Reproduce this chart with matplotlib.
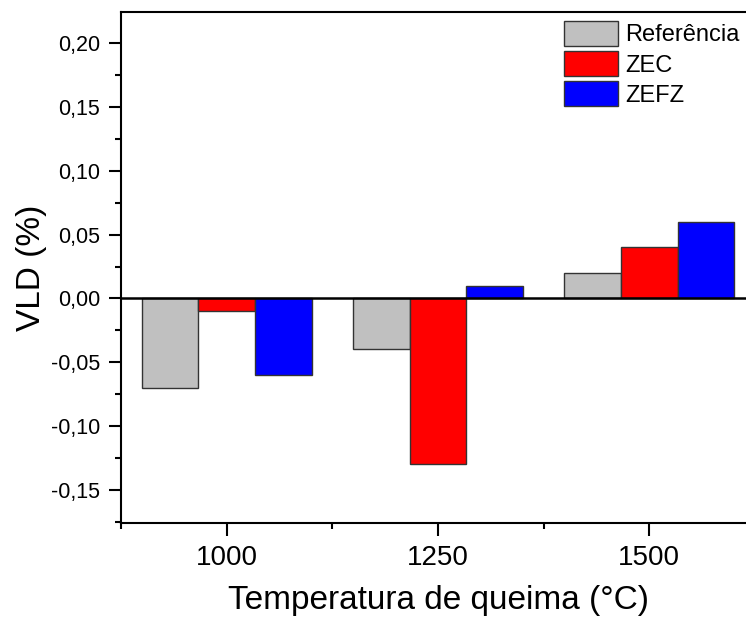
import numpy as np
import matplotlib.pyplot as plt
from matplotlib.ticker import MultipleLocator, FuncFormatter

# temperaturas de queima e variacao linear dimensional (%)
temperaturas = ['1000', '1250', '1500']
referencia = [-0.07, -0.04, 0.02]
zec = [-0.01, -0.13, 0.04]
zefz = [-0.06, 0.01, 0.06]

plt.rcParams['font.family'] = ['Liberation Sans', 'DejaVu Sans']

fig = plt.figure(figsize=(7.46, 6.19), dpi=100)
ax = fig.add_axes([121 / 746, 96 / 619, 634 / 746, 511 / 619])

x = np.arange(len(temperaturas))
w = 0.268
ax.bar(x - w, referencia, w, color='#c0c0c0', edgecolor='#333333', linewidth=1, label='Referência')
ax.bar(x, zec, w, color='#ff0000', edgecolor='#333333', linewidth=1, label='ZEC')
ax.bar(x + w, zefz, w, color='#0000ff', edgecolor='#333333', linewidth=1, label='ZEFZ')
ax.axhline(0, color='black', linewidth=1.8, zorder=3)

ax.set_xlim(-0.5, 2.5)
ax.set_ylim(-0.176, 0.2245)
ax.set_xticks(x)
ax.set_xticklabels(temperaturas)
ax.xaxis.set_minor_locator(MultipleLocator(1, offset=0.5))
ax.yaxis.set_major_locator(MultipleLocator(0.05))
ax.yaxis.set_minor_locator(MultipleLocator(0.025))
ax.yaxis.set_major_formatter(FuncFormatter(lambda v, p: f'{v:.2f}'.replace('.', ',')))

for s in ax.spines.values():
    s.set_linewidth(1.5)
ax.spines['right'].set_visible(False)

ax.tick_params(which='major', direction='out', length=9, width=1.5)
ax.tick_params(which='minor', direction='out', length=4.5, width=1.5)
ax.tick_params(axis='y', which='major', labelsize=15.5, pad=6)
ax.tick_params(axis='x', which='major', labelsize=20, pad=7)

ax.set_xlabel('Temperatura de queima (°C)', fontsize=24, labelpad=10)
ax.set_ylabel('VLD (%)', fontsize=24, labelpad=2.5)

ax.legend(loc='upper left', bbox_to_anchor=(564 / 746, 1 - 21 / 619), bbox_transform=fig.transFigure,
          frameon=False, fontsize=17, handlelength=2.3, handleheight=1.25, handletextpad=0.3,
          labelspacing=0.2, borderpad=0, borderaxespad=0)

fig.savefig('out.png', dpi=100)
